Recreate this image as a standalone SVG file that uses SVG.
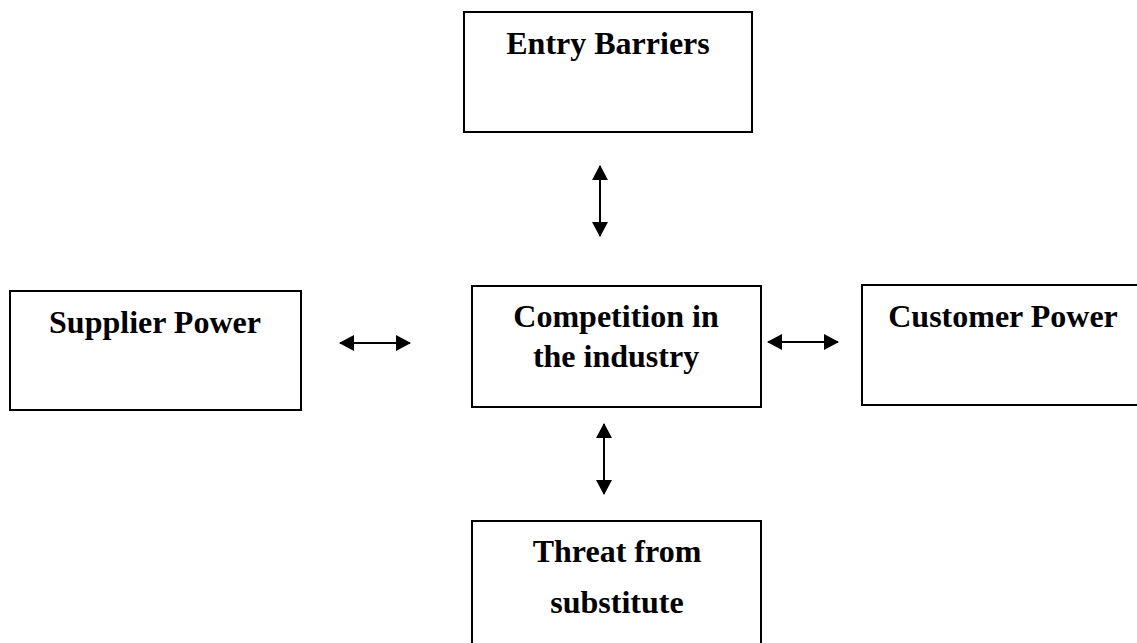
<svg xmlns="http://www.w3.org/2000/svg" width="1137" height="643" viewBox="0 0 1137 643">
  <defs>
    <style>
      .box { fill: #ffffff; stroke: #000000; stroke-width: 2; }
      .label { font-family: "Liberation Serif", "Times New Roman", serif; font-weight: bold; font-size: 32px; fill: #000000; text-anchor: middle; }
      .link { stroke: #000000; stroke-width: 2; fill: none; marker-start: url(#head); marker-end: url(#head); }
    </style>
    <marker id="head" viewBox="0 0 15 16" refX="14" refY="8" markerWidth="15" markerHeight="16" markerUnits="userSpaceOnUse" orient="auto-start-reverse">
      <path d="M0,0 L15,8 L0,16 Z" fill="#000000"/>
    </marker>
  </defs>
  <rect width="1137" height="643" fill="#ffffff"/>

  <g id="entry-barriers">
    <rect class="box" x="464" y="12" width="288" height="120"/>
    <text class="label" x="608" y="54">Entry Barriers</text>
  </g>

  <g id="supplier-power">
    <rect class="box" x="10" y="291" width="291" height="119"/>
    <text class="label" x="155" y="333">Supplier Power</text>
  </g>

  <g id="competition">
    <rect class="box" x="472" y="286" width="289" height="121"/>
    <text class="label" x="616" y="327">Competition in</text>
    <text class="label" x="616" y="367">the industry</text>
  </g>

  <g id="customer-power">
    <rect class="box" x="862" y="285" width="290" height="120"/>
    <text class="label" x="1003" y="327">Customer Power</text>
  </g>

  <g id="threat-substitute">
    <rect class="box" x="472" y="521" width="289" height="140"/>
    <text class="label" x="617" y="562">Threat from</text>
    <text class="label" x="617" y="613">substitute</text>
  </g>

  <g id="connectors">
    <line class="link" x1="600" y1="166" x2="600" y2="236"/>
    <line class="link" x1="340" y1="343" x2="410" y2="343"/>
    <line class="link" x1="768" y1="342" x2="838" y2="342"/>
    <line class="link" x1="604" y1="424" x2="604" y2="494"/>
  </g>
</svg>
